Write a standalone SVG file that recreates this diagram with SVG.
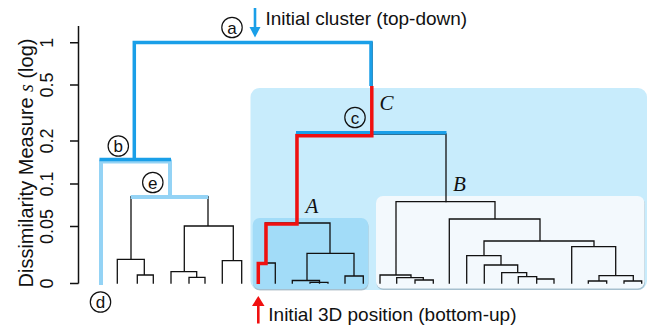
<svg xmlns="http://www.w3.org/2000/svg" width="655" height="326" viewBox="0 0 655 326">
<defs>
<style>
.t{font-family:"Liberation Sans",Arial,sans-serif;fill:#111}
.lab{font-family:"Liberation Serif","Times New Roman",serif;font-style:italic;font-size:21px;fill:#111}
.dg{fill:none;stroke:#111;stroke-width:1.3;stroke-linejoin:miter;stroke-linecap:square}
.blue{fill:none;stroke:#1a9fe8;stroke-width:3.5;stroke-linejoin:miter}
.lblue{fill:none;stroke:#94d3f5;stroke-width:4;stroke-linejoin:miter}
.red{fill:none;stroke:#f01010;stroke-width:3.5;stroke-linejoin:miter}
.circ{fill:none;stroke:#111;stroke-width:1.2}
.ax{fill:none;stroke:#111;stroke-width:1.5}
</style>
</defs>
<rect width="655" height="326" fill="#fff"/>

<g id="regionC">
<rect x="250.5" y="88" width="396.5" height="202" rx="9" fill="#c8ecfc"/>
</g>
<g id="regionA">
<rect x="253" y="219.5" width="115.5" height="71" rx="7" fill="#8fa4b0" opacity="0.6"/>
<rect x="252.7" y="218" width="115.5" height="71" rx="7" fill="#a2dcf8"/>
</g>
<g id="regionB">
<rect x="376.5" y="197.5" width="268.5" height="92.5" rx="7" fill="#8fa4b0" opacity="0.6"/>
<rect x="376" y="196" width="268.5" height="92.5" rx="7" fill="#f3f9fd"/>
</g>

<g id="axis">
<path class="ax" d="M78.5,26 V283.5 M70,42.7 H78.5 M70,85 H78.5 M70,141 H78.5 M70,184 H78.5 M70,226.5 H78.5 M70,283.5 H78.5"/>
<g class="t" font-size="18" text-anchor="middle">
<text transform="translate(53,42.7) rotate(-90)">1</text>
<text transform="translate(53,85) rotate(-90)">0.5</text>
<text transform="translate(53,141) rotate(-90)">0.2</text>
<text transform="translate(53,184) rotate(-90)">0.1</text>
<text transform="translate(53,226.5) rotate(-90)">0.05</text>
<text transform="translate(53,283.5) rotate(-90)">0</text>
</g>
<text class="t" font-size="20" text-anchor="middle" transform="translate(33,163) rotate(-90)">Dissimilarity Measure <tspan font-family="Liberation Serif,serif" font-style="italic">s</tspan> (log)</text>
</g>

<g id="connectors">
<path class="dg" d="M134.3,160.7 V42.5 H372 V134 M296.5,134 H446 V201.7 M296.5,134 V223 M101,160.7 H170 M101,160.7 V283 M170,160.7 V197 M131,197 H208"/>
<path class="dg" d="M131,197 V259.3 M117.3,283 V259.3 H144.3 V275 M137.3,283 V275 H153.3 V283 M208,197 V226 M184.3,271.7 V226 H233.3 V260.7 M171,283 V271.7 H196.7 V277.3 M189,283 V277.3 H205 V283 M222.3,283 V260.7 H241.7 V283"/>
<path class="dg" d="M265.5,223 H330 M265.5,223 V263 M258.3,283 V263 H275.3 V283 M330,223 V253.3 M307,253.3 H354 M307,253.3 V280.5 M292.3,283 V280.5 H319.5 V283 M310,283 V282.3 H328 V283 M354,253.3 V276 M345,283 V276 H363.3 V283"/>
<path class="dg" d="M396,201.7 H495 M396,201.7 V275 M380,283 V275 H411 V277.7 M396.7,283 V277.7 H423.3 V280 M415,283 V280 H433.3 V283 M495,201.7 V219 M449.3,283 V219 H540 V241 M484,241 H594 M484,241 V255.7 M466.7,283 V255.7 H501 V265 M484.3,283 V265 H517.7 V272.7 M501.7,283 V272.7 H526.7 V276.7 M518.3,283 V276.7 H536.7 V279 M536.7,283 V279 H554 V283 M594,241 V246.7 M571.7,283 V246.7 H615.7 V275.7 M599,275.7 H633.3 M599,275.7 V281 M588.3,283 V281 H606.7 V283 M633.3,275.7 V281 M624,283 V281 H641.7 V283"/>
<path class="lblue" d="M101,285 V161.5 H170 V197 M130.7,197 H208.3"/>
<path class="blue" d="M134.3,160 V42.5 H371 V86 M99.5,159.5 H171"/>
<path class="blue" d="M296,132.8 H446.5"/>
<path class="red" d="M371.8,86 V135.8 H297 V224 H266 V263.5 H258.3 V284"/>
</g>

<g id="node-a">
<circle class="circ" cx="232" cy="27.5" r="10.2"/>
<text class="t" x="232" y="33.5" font-size="17" text-anchor="middle">a</text>
</g>
<g id="node-b">
<circle class="circ" cx="118.3" cy="146" r="10.2"/>
<text class="t" x="118.3" y="152" font-size="17" text-anchor="middle">b</text>
</g>
<g id="node-c">
<circle class="circ" cx="355" cy="117.5" r="10.2"/>
<text class="t" x="355" y="123.5" font-size="17" text-anchor="middle">c</text>
</g>
<g id="node-d">
<circle class="circ" cx="100.5" cy="302" r="10.2"/>
<text class="t" x="100.5" y="308" font-size="17" text-anchor="middle">d</text>
</g>
<g id="node-e">
<circle class="circ" cx="152.8" cy="182.5" r="10.2"/>
<text class="t" x="152.8" y="188.5" font-size="17" text-anchor="middle">e</text>
</g>

<g id="cluster-labels">
<text class="lab" x="379.5" y="110">C</text>
<text class="lab" x="453" y="191.3">B</text>
<text class="lab" x="305.5" y="213.3">A</text>
</g>

<g id="annotation-top">
<path d="M255,8 V29" stroke="#1a9fe8" stroke-width="2.6"/>
<polygon points="249.5,27 260.5,27 255,37.5" fill="#1a9fe8"/>
<text class="t" x="265.5" y="25" font-size="19">Initial cluster (top-down)</text>
</g>
<g id="annotation-bottom">
<path d="M258.3,304 V323.5" stroke="#f01010" stroke-width="2.6"/>
<polygon points="252,306 264.5,306 258.3,296" fill="#f01010"/>
<text class="t" x="268.3" y="320.5" font-size="19">Initial 3D position (bottom-up)</text>
</g>
</svg>
